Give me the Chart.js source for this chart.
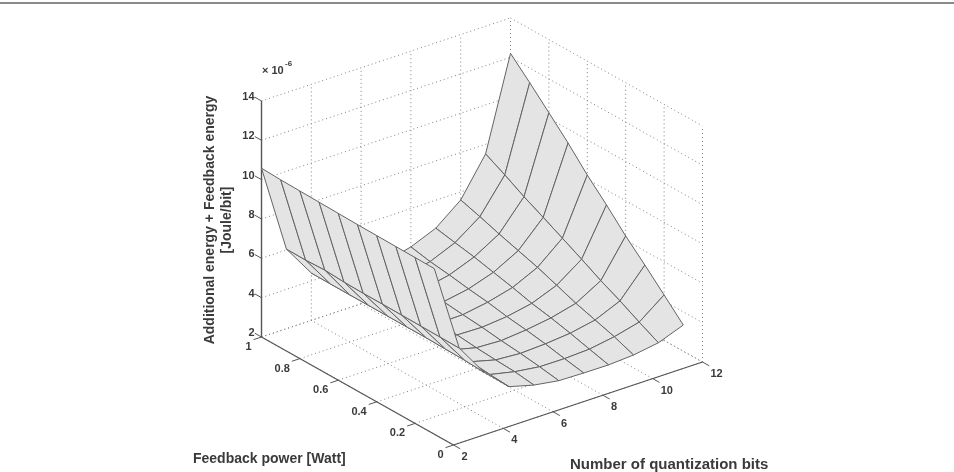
<!DOCTYPE html>
<html>
<head>
<meta charset="utf-8">
<title>Additional energy + Feedback energy</title>
<script src="https://cdn.jsdelivr.net/npm/chart.js@4"></script>
<style>
  html, body { margin: 0; padding: 0; background: #fff; }
  #rule { position: absolute; left: 0; top: 2px; width: 954px; height: 2px; background: #8a8a8a; }
  canvas { display: block; }
</style>
</head>
<body>
<canvas id="surface" width="954" height="472"></canvas>
<div id="rule"></div>
<script>
var bits = [2, 3, 4, 5, 6, 7, 8, 9, 10, 11, 12];
var power = [1, 0.9, 0.8, 0.7, 0.6, 0.5, 0.4, 0.3, 0.2, 0.1];

// one row per bit count, one column per entry of power, in units of 1e-6 J/bit
var energy2 = [10.58, 10.54, 10.52, 10.50, 10.48, 10.46, 10.45, 10.44, 10.43, 10.42];
var energy3 = [6.05, 6.04, 6.08, 6.02, 6.00, 6.00, 5.99, 5.98, 5.97, 5.96];
var energy4 = [4.41, 4.40, 4.40, 4.40, 4.40, 4.40, 4.40, 4.38, 4.36, 4.30];
var energy5 = [3.70, 3.65, 3.60, 3.55, 3.50, 3.43, 3.37, 3.32, 3.22, 3.15];
var energy6 = [3.60, 3.50, 3.40, 3.30, 3.20, 3.16, 3.06, 2.99, 2.94, 2.81];
var energy7 = [3.72, 3.58, 3.46, 3.33, 3.22, 3.13, 3.00, 2.90, 2.77, 2.61];
var energy8 = [4.05, 3.85, 3.72, 3.56, 3.43, 3.25, 3.12, 2.96, 2.76, 2.58];
var energy9 = [4.58, 4.39, 4.21, 3.98, 3.76, 3.50, 3.31, 3.08, 2.82, 2.57];
var energy10 = [5.59, 5.29, 4.96, 4.66, 4.36, 4.00, 3.63, 3.33, 3.03, 2.65];
var energy11 = [7.51, 6.99, 6.43, 5.93, 5.42, 4.90, 4.36, 3.88, 3.35, 2.85];
var energy12 = [12.20, 11.26, 10.28, 9.29, 8.21, 7.24, 6.21, 5.28, 4.31, 3.33];
var energy = [energy2, energy3, energy4, energy5, energy6, energy7, energy8, energy9, energy10, energy11, energy12];

var bitTicks = [2, 4, 6, 8, 10, 12];
var powerTicks = [0, 0.2, 0.4, 0.6, 0.8, 1];
var energyTicks = [2, 4, 6, 8, 10, 12, 14];

var GRID = '#808080';
var AXIS = '#555555';
var EDGE = '#636363';
var FACE = '#e4e4e4';
var INK = '#3a3a3a';

// fixed orthographic view of the (bits, power, energy) box
function project(b, p, e) {
  return {
    x: 453.5 + 24.9 * (b - 2) - 192 * p,
    y: 445 - 8.3 * (b - 2) - 108 * p - 19.67 * (e - 2)
  };
}

function lineSet(points, color, dash, width, order) {
  return {
    data: points,
    showLine: true,
    pointRadius: 0,
    borderColor: color,
    borderWidth: width,
    borderDash: dash,
    fill: false,
    tension: 0,
    order: order
  };
}

var datasets = [];

// ==========================================================================
// Dotted box grid
// ==========================================================================
function addGrid(a, b) {
  datasets.push(lineSet([a, b], GRID, [1, 3], 1, 5000));
}

bitTicks.forEach(function(b) {
  addGrid(project(b, 0, 2), project(b, 1, 2));
  addGrid(project(b, 1, 2), project(b, 1, 14));
});
powerTicks.forEach(function(p) {
  addGrid(project(2, p, 2), project(12, p, 2));
  addGrid(project(12, p, 2), project(12, p, 14));
});
energyTicks.forEach(function(e) {
  addGrid(project(2, 1, e), project(12, 1, e));
  addGrid(project(12, 1, e), project(12, 0, e));
});

// ==========================================================================
// Solid axes and tick marks
// ==========================================================================
function addAxis(a, b, width) {
  datasets.push(lineSet([a, b], AXIS, [], width, 4000));
}

addAxis(project(2, 1, 2), project(2, 1, 14), 1.4);
addAxis(project(2, 0, 2), project(2, 1, 2), 1.2);
addAxis(project(2, 0, 2), project(12, 0, 2), 1.2);

energyTicks.forEach(function(e) {
  addAxis(project(2, 1, e), project(2, 1.035, e), 1);
});
powerTicks.forEach(function(p) {
  addAxis(project(2, p, 2), project(1.68, p, 2), 1);
});
bitTicks.forEach(function(b) {
  addAxis(project(b, 0, 2), project(b, -0.035, 2), 1);
});

// ==========================================================================
// Surface, one closed quad per cell, far cells painted first
// ==========================================================================
for (var i = bits.length - 2; i >= 0; i--) {
  for (var j = 0; j < power.length - 1; j++) {
    var a = project(bits[i], power[j], energy[i][j]);
    var b = project(bits[i + 1], power[j], energy[i + 1][j]);
    var c = project(bits[i + 1], power[j + 1], energy[i + 1][j + 1]);
    var d = project(bits[i], power[j + 1], energy[i][j + 1]);
    var quad = lineSet([a, b, c, d, a], EDGE, [], 1, (i * 20) + (power.length - j));
    quad.fill = 'shape';
    quad.backgroundColor = FACE;
    datasets.push(quad);
  }
}

// ==========================================================================
// Text
// ==========================================================================
function put(ctx, text, x, y, font, align) {
  ctx.font = font;
  ctx.textAlign = align;
  ctx.textBaseline = 'middle';
  ctx.fillText(text, x, y);
}

var textPlugin = {
  id: 'boxText',
  afterDatasetsDraw: function(chart) {
    var ctx = chart.ctx;
    var xs = chart.scales.x;
    var ys = chart.scales.y;
    var tickFont = 'bold 11px "Liberation Sans"';
    var titleFont = 'bold 14px "Liberation Sans"';

    function at(pt, dx, dy, text, align) {
      put(ctx, text, xs.getPixelForValue(pt.x) + dx, ys.getPixelForValue(pt.y) + dy, tickFont, align);
    }

    ctx.save();
    ctx.fillStyle = INK;

    energyTicks.forEach(function(e) {
      at(project(2, 1, e), -7, -4, String(e), 'right');
    });
    powerTicks.forEach(function(p) {
      at(project(2, p, 2), -10, 10, String(p), 'right');
    });
    bitTicks.forEach(function(b) {
      at(project(b, 0, 2), 8, 12, String(b), 'left');
    });

    put(ctx, '\u00d7 10', 262, 71, tickFont, 'left');
    put(ctx, '-6', 285, 64, 'bold 8px "Liberation Sans"', 'left');

    put(ctx, 'Feedback power [Watt]', 193, 459, titleFont, 'left');
    put(ctx, 'Number of quantization bits', 570, 465, 'bold 15px "Liberation Sans"', 'left');

    ctx.translate(210, 220);
    ctx.rotate(-Math.PI / 2);
    put(ctx, 'Additional energy + Feedback energy', 0, 0, titleFont, 'center');
    put(ctx, '[Joule/bit]', 0, 17, titleFont, 'center');
    ctx.restore();
  }
};

new Chart(document.getElementById('surface'), {
  type: 'scatter',
  data: { datasets: datasets },
  options: {
    responsive: false,
    animation: false,
    events: [],
    layout: { padding: 0 },
    plugins: {
      legend: { display: false },
      tooltip: { enabled: false }
    },
    scales: {
      x: { type: 'linear', min: 0, max: 954, display: false },
      y: { type: 'linear', min: 0, max: 472, reverse: true, display: false }
    }
  },
  plugins: [textPlugin]
});
</script>
</body>
</html>
